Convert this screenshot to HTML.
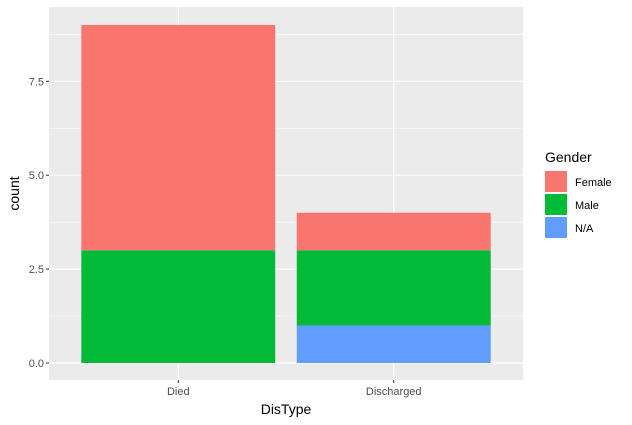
<!DOCTYPE html>
<html><head><meta charset="utf-8"><style>
body{margin:0;background:#fff;}
svg{display:block;font-family:"Liberation Sans",Arial,sans-serif;}
</style></head><body>
<svg id="c" width="632" height="425"></svg>
<script>
const categories=["Died","Discharged"];
const genders=["N/A","Male","Female"];
const colors={"Female":"#F8766D","Male":"#00BA38","N/A":"#619CFF"};
const naVals=[0,1];
const maleVals=[3,2];
const femaleVals=[6,1];
const yTicks=[0,2.5,5,7.5];
const yTickLabels=["0.0","2.5","5.0","7.5"];
const series={"N/A":naVals,"Male":maleVals,"Female":femaleVals};
const NS="http://www.w3.org/2000/svg";
const svg=document.getElementById('c');
const L=49,R=523,T=7,B=380;
const y=v=>363-v*37.56;
const band=(R-L)/2.2;
const x=i=>L+band*0.6+i*band;
function el(t,a,p){const e=document.createElementNS(NS,t);for(const k in a)e.setAttribute(k,a[k]);(p||svg).appendChild(e);return e;}
const panel=el('rect',{x:L,y:T,width:R-L,height:B-T,fill:'#EBEBEB'});


for(let i=0;i<yTicks.length-1;i++){const m=(yTicks[i]+yTicks[i+1])/2;const g=el('line',{x1:L,x2:R,y1:y(m),y2:y(m),stroke:'#fff','stroke-width':0.6});}
{const m=yTicks[yTicks.length-1]+1.25;if(y(m)>T){const g=el('line',{x1:L,x2:R,y1:y(m),y2:y(m),stroke:'#fff','stroke-width':0.6});}}
yTicks.forEach((t,i)=>{
 const g=el('line',{x1:L,x2:R,y1:y(t),y2:y(t),stroke:'#fff','stroke-width':1.2});
 
 const tk=el('line',{x1:L-3,x2:L,y1:y(t),y2:y(t),stroke:'#333','stroke-width':1});
 
 const tx=el('text',{x:L-5,y:y(t)+4,'text-anchor':'end','font-size':11,fill:'#4D4D4D'});tx.textContent=yTickLabels[i];
 
});
categories.forEach((c,i)=>{
 const g=el('line',{x1:x(i),x2:x(i),y1:T,y2:B,stroke:'#fff','stroke-width':1.2});
 
});
categories.forEach((c,i)=>{
 let base=0;const w=band*0.9;
 genders.forEach(gn=>{
  const v=series[gn][i];if(v>0){
   const r=el('rect',{x:x(i)-w/2,y:y(base+v),width:w,height:y(base)-y(base+v),fill:colors[gn]});
   
   }
  base+=v;});
 const tk=el('line',{x1:x(i),x2:x(i),y1:B,y2:B+3,stroke:'#333','stroke-width':1});
 
 const tx=el('text',{x:x(i),y:B+15,'text-anchor':'middle','font-size':11,fill:'#4D4D4D'});tx.textContent=c;
 
});
const xt=el('text',{x:(L+R)/2,y:414,'text-anchor':'middle','font-size':14,fill:'#000'});xt.textContent='DisType';

const yt=el('text',{x:0,y:0,'text-anchor':'middle','font-size':14,fill:'#000',transform:'translate(19,'+((T+B)/2)+') rotate(-90)'});yt.textContent='count';

const lt=el('text',{x:545,y:162,'font-size':14,fill:'#000'});lt.textContent='Gender';

["Female","Male","N/A"].forEach((gn,i)=>{
 const yy=171+i*23;
 const k=el('rect',{x:545,y:yy,width:22,height:21,fill:colors[gn]});
 
 const t=el('text',{x:575,y:yy+15,'font-size':11,fill:'#000'});t.textContent=gn;
 
});
</script>
</body></html>
